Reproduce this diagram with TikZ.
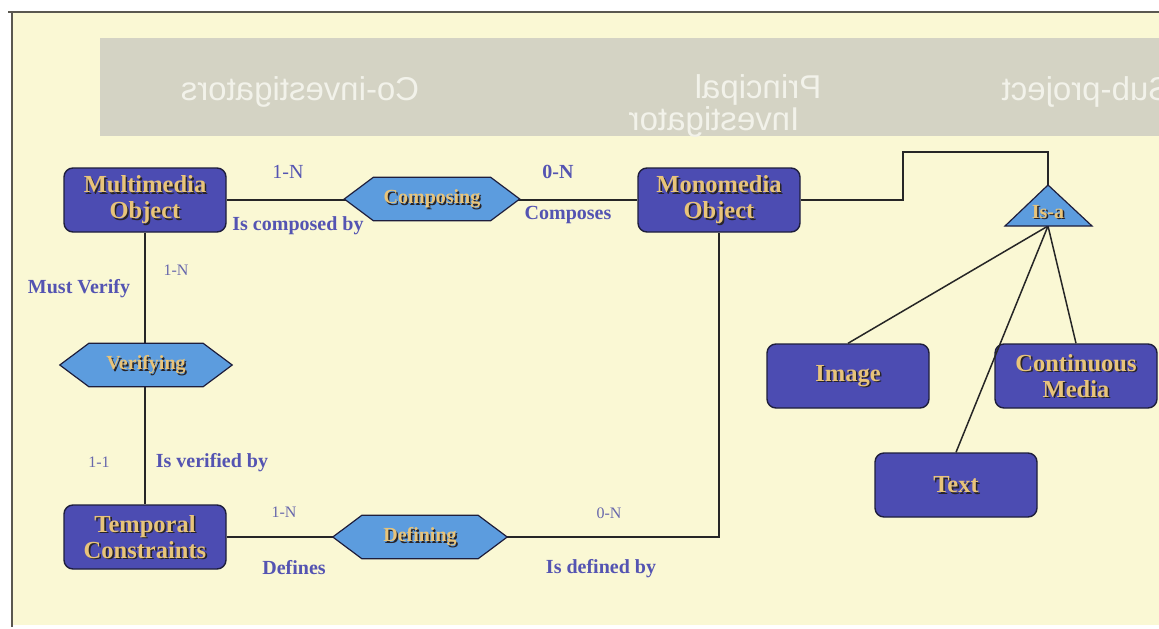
\documentclass[tikz,border=0pt]{standalone}
\usepackage{graphicx}
\usepackage{fontspec}
\setmainfont{Liberation Serif}
\newfontfamily\bandfont{Liberation Sans}
\usetikzlibrary{calc}
\definecolor{bg}{RGB}{250,248,212}
\definecolor{band}{RGB}{212,211,196}
\definecolor{ghosttext}{RGB}{242,242,234}
\definecolor{entfill}{RGB}{76,76,178}
\definecolor{entline}{RGB}{30,30,60}
\definecolor{gold}{RGB}{232,196,122}
\definecolor{shade}{RGB}{40,36,40}
\definecolor{hexfill}{RGB}{92,156,222}
\definecolor{lbl}{RGB}{84,84,178}
\definecolor{lblsmall}{RGB}{104,104,172}
\definecolor{framec}{RGB}{90,88,80}
\tikzset{
 entity/.style={draw=entline, line width=1.4pt, fill=entfill, rounded corners=9pt, minimum width=162pt, minimum height=64pt, inner sep=0pt},
 enttext/.style={text=gold, font=\fontsize{24.5}{26}\selectfont\bfseries, align=center, inner sep=0pt},
 entshadow/.style={enttext, text=shade},
 relbox/.style={minimum width=#1, minimum height=43pt, inner sep=0pt},
 hex/.style={draw=entline, line width=1.2pt, fill=hexfill},
 reltext/.style={text=gold, font=\fontsize{20}{22}\selectfont\bfseries, inner sep=0pt},
 relshadow/.style={reltext, text=shade},
 conn/.style={draw=black!85, line width=1.5pt},
 role/.style={text=lbl, font=\fontsize{20}{22}\selectfont\bfseries, inner sep=0pt},
 card/.style={text=lblsmall, font=\fontsize{16}{18}\selectfont, inner sep=0pt},
 bigcard/.style={text=lbl, font=\fontsize{20}{22}\selectfont, inner sep=0pt},
 ghost/.style={text=ghosttext, font=\bandfont\fontsize{33}{35}\selectfont, inner sep=0pt}
}
\newcommand\entnode[3]{%
 \node[entity] (#1) at (#2) {};
 \node[entshadow] (#1-s) at ($(#2)+(1.6,1.6)$) {#3};
 \node[enttext] (#1-t) at (#2) {#3};}
\newcommand\relnode[4]{%
 \node[relbox=#3] (#1) at (#2) {};
 \draw[hex] (#1.west) -- ([xshift=29pt]#1.north west) -- ([xshift=-29pt]#1.north east) -- (#1.east) -- ([xshift=-29pt]#1.south east) -- ([xshift=29pt]#1.south west) -- cycle;
 \node[relshadow] (#1-s) at ($(#2)+(1.5,1.5)$) {#4};
 \node[reltext] (#1-t) at (#2) {#4};}
\begin{document}
\begin{tikzpicture}[x=1pt,y=-1pt]
\useasboundingbox (0,0) rectangle (1159,629);
\fill[white] (0,0) rectangle (1159,629);
\fill[bg] (12,12) rectangle (1159,625);
% bleed-through band
\begin{scope}
\clip (0,0) rectangle (1159,629);
\fill[band] (100,38) rectangle (1159,136);
\node[ghost] (g1) at (1086,92) {\reflectbox{Sub-project}};
\node[ghost] (g2) at (758,90) {\reflectbox{Principal}};
\node[ghost] (g3) at (714,122) {\reflectbox{Investigator}};
\node[ghost] (g4) at (300,92) {\reflectbox{Co-investigators}};
\end{scope}
% frame
\draw[framec, line width=1.5pt] (8,12) -- (1159,12);
\draw[framec, line width=1.5pt] (12,12) -- (12,627);

\coordinate (bend) at (903,152);
\coordinate (isa-top) at (1048,185);
\coordinate (isa-l) at (1005,226);
\coordinate (isa-r) at (1092,226);
\coordinate (isa-b) at (1048,226);

% entities
\entnode{mm}{145,200}{Multimedia\\Object}
\entnode{mono}{719,200}{Monomedia\\Object}
\entnode{tc}{145,537}{Temporal\\Constraints}
\entnode{img}{848,376}{Image}
\entnode{cm}{1076,376}{Continuous\\Media}
\entnode{txt}{956,485}{Text}

% connectors (relationship shapes are drawn on top of them)
\draw[conn] (mm.east) -- (mono.west);
\draw[conn] (mm.south) -- (tc.north);
\draw[conn] (tc.east) -| (mono.south);
\draw[conn] (mono.east) -| (bend) -| (isa-top);
\draw[conn] (isa-b) -- (img.north);
\draw[conn] (isa-b) -- (cm.north);
\draw[conn] (isa-b) -- (txt.north);

% relationships
\relnode{comp}{432,199}{175pt}{Composing}
\relnode{ver}{146,365}{172pt}{Verifying}
\relnode{def}{420,537}{174pt}{Defining}
\draw[hex] (isa-top) -- (isa-r) -- (isa-l) -- cycle;
\node[relshadow] (isa-s) at (1049.5,213.5) {Is-a};
\node[reltext] (isa) at (1048,212) {Is-a};

% labels
\node[bigcard] (l1) at (288,172) {1-N};
\node[role] (l2) at (298,226) {Is composed by};
\node[bigcard, font=\fontsize{20}{22}\selectfont\bfseries] (l3) at (558,172) {0-N};
\node[role] (l4) at (568,215) {Composes};
\node[card] (l5) at (176,270) {1-N};
\node[role] (l6) at (79,289) {Must Verify};
\node[card] (l7) at (99,462) {1-1};
\node[role] (l8) at (212,463) {Is verified by};
\node[card] (l9) at (284,512) {1-N};
\node[role] (l10) at (294,568) {Defines};
\node[card] (l11) at (609,513) {0-N};
\node[role] (l12) at (601,569) {Is defined by};
\end{tikzpicture}
\end{document}
